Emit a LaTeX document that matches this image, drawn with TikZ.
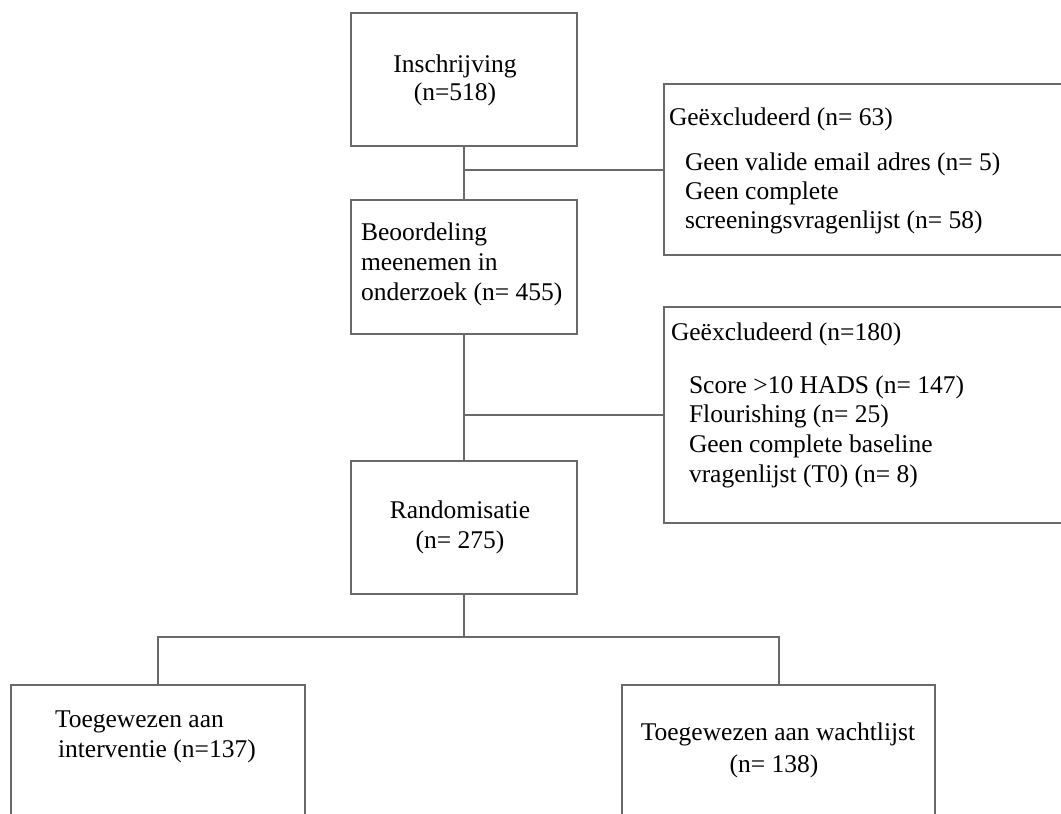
\documentclass[tikz,border=0pt]{standalone}
\usepackage{fontspec}
\setmainfont{Liberation Serif}
\definecolor{linegray}{RGB}{105,105,105}
\begin{document}
\begin{tikzpicture}[x=1pt,y=-1pt,
  box/.style={draw=linegray, line width=2pt, inner sep=0pt, outer sep=0pt, fill=white},
  conn/.style={draw=linegray, line width=2pt},
  txt/.style={inner sep=0pt, outer sep=0pt, font=\fontsize{25.5}{29}\selectfont, text=black}]
\clip (0,0) rectangle (1061,814);
\fill[white] (0,0) rectangle (1061,814);
% boxes
\node[box, minimum width=226pt, minimum height=133pt] (b1) at (464,79.5) {};
\node[box, minimum width=226pt, minimum height=134pt] (b2) at (464,267) {};
\node[box, minimum width=416pt, minimum height=171pt] (ex1) at (872,169.5) {};
\node[box, minimum width=416pt, minimum height=216pt] (ex2) at (872,415) {};
\node[box, minimum width=226pt, minimum height=133pt] (b3) at (464,527.5) {};
\node[box, minimum width=294pt, minimum height=155pt] (L) at (158,762.5) {};
\node[box, minimum width=313pt, minimum height=155pt] (R) at (778.5,762.5) {};
\coordinate (split) at (464,637);
% connectors
\draw[conn] (b1.south) -- (b2.north);
\draw[conn] (b1.south |- ex1.west) -- (ex1.west);
\draw[conn] (b2.south) -- (b3.north);
\draw[conn] (b2.south |- ex2.west) -- (ex2.west);
\draw[conn] (b3.south) -- (split);
\draw[conn] (L.north) |- (split) -| (R.north);
% texts
\node[txt, anchor=base] (t1a) at (455,72) {Inschrijving};
\node[txt, anchor=base] (t1b) at (455,100) {(n=518)};
\node[txt, anchor=base west] (t2a) at (361,240) {Beoordeling};
\node[txt, anchor=base west] (t2b) at (361,270) {meenemen in};
\node[txt, anchor=base west] (t2c) at (361,300) {onderzoek (n= 455)};
\node[txt, anchor=base west] (e1a) at (669,125) {Geëxcludeerd (n= 63)};
\node[txt, anchor=base west] (e1b) at (685,170) {Geen valide email adres (n= 5)};
\node[txt, anchor=base west] (e1c) at (685,199) {Geen complete};
\node[txt, anchor=base west] (e1d) at (685,228) {screeningsvragenlijst (n= 58)};
\node[txt, anchor=base west] (e2a) at (671,340) {Geëxcludeerd (n=180)};
\node[txt, anchor=base west] (e2b) at (689,393) {Score >10 HADS (n= 147)};
\node[txt, anchor=base west] (e2c) at (689,422) {Flourishing (n= 25)};
\node[txt, anchor=base west] (e2d) at (689,452) {Geen complete baseline};
\node[txt, anchor=base west] (e2e) at (689,482) {vragenlijst (T0) (n= 8)};
\node[txt, anchor=base] (t3a) at (460,518) {Randomisatie};
\node[txt, anchor=base] (t3b) at (460,548) {(n= 275)};
\node[txt, anchor=base west] (tla) at (55,727) {Toegewezen aan};
\node[txt, anchor=base west] (tlb) at (58,757) {interventie (n=137)};
\node[txt, anchor=base] (tra) at (778,740) {Toegewezen aan wachtlijst};
\node[txt, anchor=base] (trb) at (774,772) {(n= 138)};
\end{tikzpicture}
\end{document}
